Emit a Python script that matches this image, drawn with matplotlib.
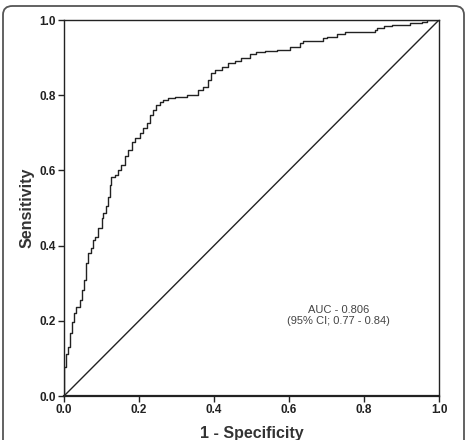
import matplotlib
matplotlib.use("Agg")
import matplotlib.pyplot as plt
from matplotlib.patches import FancyBboxPatch

# ROC curve
fpr = [0.0, 0.006, 0.011, 0.015, 0.020, 0.026, 0.033, 0.042, 0.049, 0.052,
       0.058, 0.064, 0.073, 0.077, 0.082, 0.091, 0.100, 0.104, 0.113, 0.117,
       0.122, 0.125, 0.135, 0.144, 0.153, 0.162, 0.171, 0.180, 0.189, 0.202,
       0.211, 0.220, 0.229, 0.237, 0.246, 0.255, 0.264, 0.278, 0.295, 0.327,
       0.358, 0.371, 0.384, 0.393, 0.402, 0.420, 0.438, 0.456, 0.473, 0.496,
       0.513, 0.536, 0.567, 0.602, 0.629, 0.638, 0.691, 0.700, 0.727, 0.749,
       0.829, 0.834, 0.852, 0.874, 0.923, 0.954, 0.967, 1.0]
tpr = [0.0, 0.078, 0.113, 0.131, 0.167, 0.198, 0.220, 0.238, 0.255, 0.282,
       0.309, 0.353, 0.379, 0.393, 0.415, 0.424, 0.446, 0.473, 0.486, 0.504,
       0.530, 0.561, 0.583, 0.588, 0.601, 0.614, 0.637, 0.654, 0.676, 0.685,
       0.699, 0.712, 0.725, 0.747, 0.761, 0.774, 0.783, 0.787, 0.793, 0.796,
       0.800, 0.814, 0.823, 0.840, 0.858, 0.867, 0.876, 0.885, 0.891, 0.898,
       0.909, 0.916, 0.918, 0.920, 0.929, 0.938, 0.943, 0.952, 0.956, 0.964,
       0.968, 0.973, 0.980, 0.984, 0.987, 0.991, 0.996, 1.0]
ref_line = [0.0, 1.0]
ticks = [0.0, 0.2, 0.4, 0.6, 0.8, 1.0]
auc_text = "AUC - 0.806\n(95% CI; 0.77 - 0.84)"

plt.rcParams['font.family'] = ['Liberation Sans', 'DejaVu Sans']

fig = plt.figure(figsize=(4.67, 4.40), dpi=100)
ax = fig.add_axes([64/467, 44/440, 375/467, 376/440])

ax.plot(fpr, tpr, color='#222222', lw=1.0, drawstyle='steps-pre')
ax.plot(ref_line, ref_line, color='#222222', lw=1.0)

ax.set_xlim(0, 1)
ax.set_ylim(0, 1)
ax.set_xticks(ticks)
ax.set_yticks(ticks)
ax.set_xticklabels(['%.1f' % t for t in ticks], fontweight='bold', fontsize=8.5)
ax.set_yticklabels(['%.1f' % t for t in ticks], fontweight='bold', fontsize=8.5)
ax.tick_params(direction='out', length=4, width=1.0, pad=2, colors='#222222')
for s in ax.spines.values():
    s.set_color('#222222')
    s.set_linewidth(1.0)
ax.spines['bottom'].set_linewidth(1.6)

ax.set_xlabel('1 - Specificity', fontsize=11.5, fontweight='bold', color='#333333', labelpad=7)
ax.set_ylabel('Sensitivity', fontsize=11.5, fontweight='bold', color='#333333', labelpad=3)

ax.text(0.733, 0.214, auc_text, ha='center', va='center', fontsize=8,
        color='#444444', linespacing=1.1)

# rounded frame around the figure
frame = FancyBboxPatch((3/467, -0.05), 461/467, 1.05 - 6/440,
                       boxstyle='round,pad=0,rounding_size=0.02',
                       transform=fig.transFigure, fill=False,
                       edgecolor='#555555', lw=1.3)
fig.patches.append(frame)

fig.savefig('out.png', dpi=100)
